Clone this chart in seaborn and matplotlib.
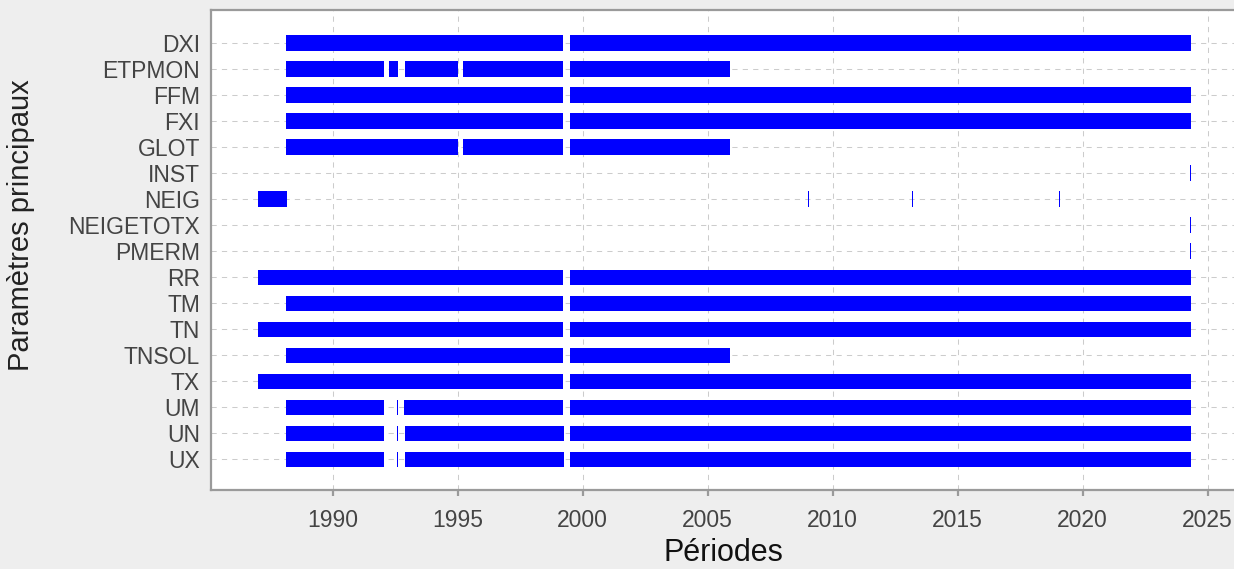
import matplotlib
matplotlib.use("Agg", force=True)
import matplotlib.pyplot as plt
import pandas as pd
import seaborn as sns

PARAMS = ["DXI", "ETPMON", "FFM", "FXI", "GLOT", "INST", "NEIG", "NEIGETOTX",
          "PMERM", "RR", "TM", "TN", "TNSOL", "TX", "UM", "UN", "UX"]

# availability periods (decimal years), one row per segment
SEG_PARAM = [
    "DXI", "DXI",
    "ETPMON", "ETPMON", "ETPMON", "ETPMON", "ETPMON",
    "FFM", "FFM",
    "FXI", "FXI",
    "GLOT", "GLOT", "GLOT",
    "INST",
    "NEIG", "NEIG", "NEIG", "NEIG",
    "NEIGETOTX",
    "PMERM",
    "RR", "RR",
    "TM", "TM",
    "TN", "TN",
    "TNSOL", "TNSOL",
    "TX", "TX",
    "UM", "UM", "UM", "UM",
    "UN", "UN", "UN", "UN",
    "UX", "UX", "UX", "UX",
]
SEG_START = [
    1988.13, 1999.50,
    1988.13, 1992.26, 1992.90, 1995.22, 1999.50,
    1988.13, 1999.50,
    1988.13, 1999.50,
    1988.13, 1995.22, 1999.50,
    2024.28,
    1987.00, 2009.00, 2013.17, 2019.05,
    2024.28,
    2024.28,
    1987.00, 1999.50,
    1988.13, 1999.50,
    1987.00, 1999.50,
    1988.13, 1999.50,
    1987.00, 1999.50,
    1988.13, 1992.57, 1992.86, 1999.50,
    1988.13, 1992.57, 1992.90, 1999.50,
    1988.13, 1992.57, 1992.90, 1999.50,
]
SEG_END = [
    1999.22, 2024.32,
    1992.06, 1992.62, 1995.02, 1999.22, 2005.90,
    1999.22, 2024.32,
    1999.22, 2024.32,
    1995.02, 1999.22, 2005.90,
    2024.32,
    1988.17, 2009.04, 2013.21, 2019.09,
    2024.32,
    2024.32,
    1999.22, 2024.32,
    1999.22, 2024.32,
    1999.22, 2024.32,
    1999.22, 2005.90,
    1999.22, 2024.32,
    1992.06, 1992.61, 1999.22, 2024.32,
    1992.06, 1992.61, 1999.26, 2024.32,
    1992.06, 1992.61, 1999.26, 2024.32,
]
X_TICKS = [1990, 1995, 2000, 2005, 2010, 2015, 2020, 2025]

BG = "#EEEEEE"
SPINE = "#9A9A9A"
TEXT = "#444444"
REGULAR = ["Liberation Sans", "DejaVu Sans"]


def main() -> None:
    sns.set_theme(style="white")
    plt.rcParams["font.family"] = REGULAR

    segs = pd.DataFrame({"param": SEG_PARAM, "start": SEG_START, "end": SEG_END})
    segs["row"] = segs["param"].map({p: i for i, p in enumerate(PARAMS)})
    segs["width"] = segs["end"] - segs["start"]

    fig = plt.figure(figsize=(12.34, 5.69), dpi=100, facecolor=BG)
    ax = fig.add_axes([211 / 1234, 1 - 490 / 569, 1 - 211 / 1234 + 0.002, 480 / 569])
    ax.set_facecolor("white")

    ax.barh(segs["row"], segs["width"], left=segs["start"], height=0.58,
            color="#0000FF", linewidth=0, zorder=3)

    ax.set_xlim(1985.13, 2026.15)
    ax.set_ylim(17.19, -1.27)
    ax.set_yticks(range(len(PARAMS)))
    ax.set_yticklabels(PARAMS, fontsize=16.5, color=TEXT)
    ax.set_xticks(X_TICKS)
    ax.set_xticklabels([str(t) for t in X_TICKS], fontsize=16.5, color=TEXT)

    ax.grid(True, axis="both", color="#CCCCCC", linestyle=(0, (5, 5)), linewidth=0.75, zorder=0)
    ax.set_axisbelow(True)

    for side in ["left", "bottom", "top"]:
        ax.spines[side].set_visible(True)
        ax.spines[side].set_color(SPINE)
        ax.spines[side].set_linewidth(1.6)
    ax.spines["right"].set_visible(False)

    ax.tick_params(axis="y", length=0, pad=8)
    ax.tick_params(axis="x", length=4.5, width=1.6, color=SPINE, pad=9, bottom=True)

    ax.set_xlabel("Périodes", fontsize=22, color="#111111", va="center")
    ax.set_ylabel("Paramètres principaux", fontsize=21, color="#222222", va="center")
    ax.xaxis.set_label_coords(0.5, -0.131)
    ax.yaxis.set_label_coords(-0.185, 0.552)

    fig.savefig("out.png", dpi=100, facecolor=BG)
    plt.close(fig)


if __name__ == "__main__":
    main()
